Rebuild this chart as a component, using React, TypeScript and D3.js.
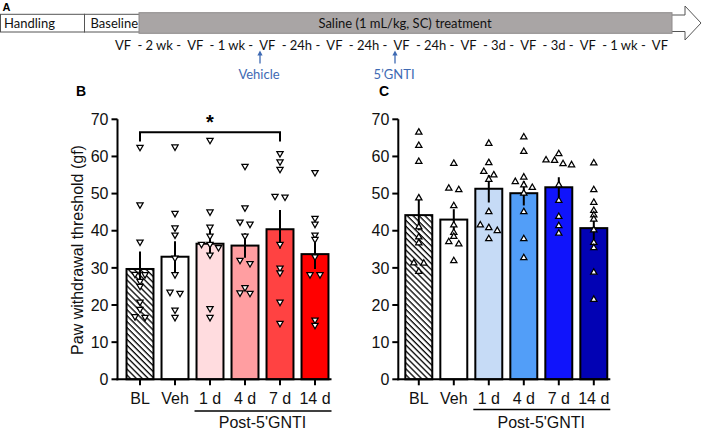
import React from "react";
import * as d3 from "d3";

const categories = ["BL", "Veh", "1 d", "4 d", "7 d", "14 d"];
const yTicks = [0, 10, 20, 30, 40, 50, 60, 70];

const bMeans = [29.7, 33.0, 36.5, 36.0, 40.4, 33.7];
const bSems = [4.7, 4.2, 3.8, 3.3, 5.2, 4.0];
const bPoints = [
  [62.5, 47.0, 37.0, 28.3, 28.2, 26.4, 25.1, 20.8, 18.9, 16.9, 16.7],
  [62.6, 44.7, 40.8, 38.9, 32.7, 28.2, 23.5, 23.2, 18.7, 16.7],
  [64.4, 45.1, 41.0, 38.6, 36.4, 36.4, 35.5, 33.5, 19.1, 16.7],
  [57.4, 46.2, 42.4, 41.8, 38.6, 32.1, 31.2, 24.7, 23.3, 23.2],
  [60.8, 58.6, 56.6, 49.3, 49.1, 36.4, 30.0, 28.7, 20.8, 15.1],
  [55.7, 43.4, 41.8, 38.9, 37.7, 33.0, 28.2, 28.2, 16.0, 14.6],
];
const bColors = ["hatch", "#FFFFFF", "#FFDCDF", "#FF9EA1", "#FF4242", "#FF0000"];

const cMeans = [44.2, 43.0, 51.3, 50.1, 51.7, 40.7];
const cSems = [4.1, 2.8, 3.7, 3.3, 2.7, 3.0];
const cPoints = [
  [66.5, 62.9, 58.6, 48.8, 41.0, 38.3, 36.7, 31.3, 31.2, 29.0],
  [58.1, 51.4, 51.0, 46.7, 41.5, 39.5, 38.4, 37.0, 36.4, 31.9],
  [63.5, 58.3, 55.9, 55.0, 53.8, 45.1, 41.5, 40.8, 40.0, 37.8],
  [65.2, 61.3, 54.4, 53.2, 52.3, 51.6, 50.1, 45.1, 37.8, 32.7],
  [60.7, 59.0, 58.9, 58.0, 57.7, 52.3, 48.1, 43.8, 41.3, 39.3],
  [58.2, 51.0, 47.6, 45.4, 44.2, 43.1, 40.2, 36.8, 35.4, 28.8, 21.5],
];
const cColors = ["hatch", "#FFFFFF", "#C6DBF6", "#529EF8", "#1014FB", "#0202B4"];

const timelineText =
  "VF  - 2 wk -  VF  - 1 wk -  VF  - 24h -  VF  - 24h -  VF  - 24h -  VF  - 3d -  VF  - 3d -  VF  - 1 wk -  VF";

const yScale = d3.scaleLinear().domain([0, 70]).range([379.3, 119.3]);

function jitter(vals: number[]) {
  const idx = vals.map((v, i) => i).sort((a, b) => vals[b] - vals[a]);
  const groups: number[][] = [];
  let prev: number | null = null;
  for (const i of idx) {
    const py = yScale(vals[i]);
    if (prev !== null && Math.abs(py - prev) < 3.8) groups[groups.length - 1].push(i);
    else groups.push([i]);
    prev = py;
  }
  const off = new Array(vals.length).fill(0);
  groups.forEach((g) => {
    const n = g.length;
    const sp = n > 2 ? 8.5 : 10;
    g.forEach((i, k) => (off[i] = (k - (n - 1) / 2) * sp));
  });
  return off;
}

function Panel(props: {
  axisX: number;
  range: [number, number];
  means: number[];
  sems: number[];
  points: number[][];
  colors: string[];
  down: boolean;
  postY: number;
  yLabel?: boolean;
  sig?: boolean;
}) {
  const { axisX, range, means, sems, points, colors, down, postY } = props;
  const x = d3.scaleBand().domain(categories).range(range).paddingInner(0.23).paddingOuter(0.115);
  const bw = x.bandwidth();
  const y0 = yScale(0);
  const tri = d3.symbol().type(d3.symbolTriangle).size(17)() as string;
  const font = "'Liberation Sans', Arial, sans-serif";
  const cx = (c: string) => (x(c) as number) + bw / 2;
  return (
    <g fontFamily={font}>
      {categories.map((c, i) => (
        <rect
          key={"bar" + c}
          x={x(c)}
          y={yScale(means[i])}
          width={bw}
          height={y0 - yScale(means[i])}
          fill={colors[i] === "hatch" ? "url(#hatch)" : colors[i]}
          stroke="#000"
          strokeWidth={2}
        />
      ))}
      {categories.map((c, i) => (
        <line
          key={"err" + c}
          x1={cx(c)}
          x2={cx(c)}
          y1={yScale(means[i] + sems[i])}
          y2={yScale(means[i] - sems[i])}
          stroke="#000"
          strokeWidth={2}
        />
      ))}
      {categories.map((c, i) => {
        const off = jitter(points[i]);
        return points[i].map((v, k) => (
          <path
            key={"pt" + c + k}
            d={tri}
            transform={`translate(${cx(c) + off[k]},${yScale(v)}) rotate(${down ? 180 : 0})`}
            fill="#fff"
            stroke="#000"
            strokeWidth={1.25}
          />
        ));
      })}
      {/* y axis */}
      <line x1={axisX} x2={axisX} y1={yScale(0) + 1} y2={yScale(70)} stroke="#000" strokeWidth={2} />
      {yTicks.map((t) => (
        <g key={"yt" + t}>
          <line x1={axisX - 6} x2={axisX} y1={yScale(t)} y2={yScale(t)} stroke="#000" strokeWidth={2} />
          <text x={axisX - 9} y={yScale(t)} dy="0.36em" textAnchor="end" fontSize={16} fill="#111">
            {t}
          </text>
        </g>
      ))}
      {/* x axis */}
      <line x1={axisX - 1} x2={range[1] - 1} y1={y0} y2={y0} stroke="#000" strokeWidth={2} />
      {categories.map((c) => (
        <g key={"xt" + c}>
          <line x1={cx(c)} x2={cx(c)} y1={y0} y2={y0 + 6} stroke="#000" strokeWidth={2} />
          <text x={cx(c)} y={404} textAnchor="middle" fontSize={16} fill="#111">
            {c}
          </text>
        </g>
      ))}
      <line
        x1={(x(categories[2]) as number) - 2}
        x2={range[1] - 1}
        y1={postY}
        y2={postY}
        stroke="#000"
        strokeWidth={1.5}
      />
      <text
        x={(cx(categories[2]) + cx(categories[5])) / 2}
        y={428}
        textAnchor="middle"
        fontSize={16}
        fill="#111"
      >
        Post-5'GNTI
      </text>
      {props.yLabel && (
        <text transform={`translate(83,250) rotate(-90)`} textAnchor="middle" fontSize={16} fill="#111">
          Paw withdrawal threshold (gf)
        </text>
      )}
      {props.sig && (
        <g>
          <path
            d={`M${cx(categories[0])},${yScale(64)}V${yScale(66.5)}H${cx(categories[4])}V${yScale(64)}`}
            fill="none"
            stroke="#000"
            strokeWidth={2}
          />
          <text
            x={(cx(categories[0]) + cx(categories[4])) / 2}
            y={129}
            textAnchor="middle"
            fontSize={20}
            fontWeight="bold"
          >
            *
          </text>
        </g>
      )}
    </g>
  );
}

export default function App() {
  const lato = "Lato, 'Open Sans', sans-serif";
  const blue = "#3E6AB3";
  return (
    <svg
      width={703}
      height={430}
      style={{ position: "absolute", left: 0, top: 0, background: "#fff" }}
      xmlns="http://www.w3.org/2000/svg"
    >
      <defs>
        <pattern id="hatch" patternUnits="userSpaceOnUse" width={4.2} height={4.2} patternTransform="rotate(-45)">
          <rect width={4.2} height={4.2} fill="#fff" />
          <line x1={1} x2={1} y1={0} y2={4.2} stroke="#000" strokeWidth={1.3} />
        </pattern>
      </defs>
      <rect width={703} height={430} fill="#fff" />
      {/* Panel A */}
      <text x={2.5} y={10.5} fontFamily="'Liberation Sans', Arial, sans-serif" fontWeight="bold" fontSize={11}>
        A
      </text>
      <polygon
        points="139,15 685,15 685,6 701,23 685,40 685,31.5 139,31.5"
        fill="#fff"
        stroke="#555"
        strokeWidth={1}
      />
      <rect x={0.5} y={14.3} width={84} height={17.7} fill="#fff" stroke="#555" strokeWidth={1} />
      <rect x={84.5} y={14.3} width={55} height={17.7} fill="#fff" stroke="#555" strokeWidth={1} />
      <rect x={139} y={12.7} width={533} height={20.6} fill="#A9A5A5" stroke="#8E8A8A" strokeWidth={1} />
      <text x={4} y={28} fontFamily={lato} fontSize={13} fill="#111">
        Handling
      </text>
      <text x={90.5} y={28} fontFamily={lato} fontSize={13} fill="#111">
        Baseline
      </text>
      <text x={405} y={27.5} textAnchor="middle" fontFamily={lato} fontSize={13} fill="#111">
        Saline (1 mL/kg, SC) treatment
      </text>
      <text
        x={115}
        y={49.5}
        fontFamily={lato}
        fontSize={13}
        fill="#111"
        textLength={553}
        lengthAdjust="spacing"
        style={{ whiteSpace: "pre" }}
      >
        {timelineText}
      </text>
      {[
        { x: 260, t: "Vehicle" },
        { x: 395, t: "5’GNTI" },
      ].map((a) => (
        <g key={a.t}>
          <line x1={a.x} x2={a.x} y1={63.5} y2={53} stroke={blue} strokeWidth={1.3} />
          <polygon points={`${a.x - 2.6},55.5 ${a.x},50.5 ${a.x + 2.6},55.5`} fill={blue} />
          <text x={a.x - 1} y={78.5} textAnchor="middle" fontFamily={lato} fontSize={13} fill={blue}>
            {a.t}
          </text>
        </g>
      ))}
      {/* Panel labels */}
      <text x={76} y={95.5} fontFamily="'Liberation Sans', Arial, sans-serif" fontWeight="bold" fontSize={14}>
        B
      </text>
      <text x={379} y={95.5} fontFamily="'Liberation Sans', Arial, sans-serif" fontWeight="bold" fontSize={14}>
        C
      </text>
      <Panel
        axisX={117.5}
        range={[122.5, 332.5]}
        means={bMeans}
        sems={bSems}
        points={bPoints}
        colors={bColors}
        down={true}
        postY={411}
        yLabel={true}
        sig={true}
      />
      <Panel
        axisX={398.3}
        range={[401.3, 611.3]}
        means={cMeans}
        sems={cSems}
        points={cPoints}
        colors={cColors}
        down={false}
        postY={409.5}
      />
    </svg>
  );
}
